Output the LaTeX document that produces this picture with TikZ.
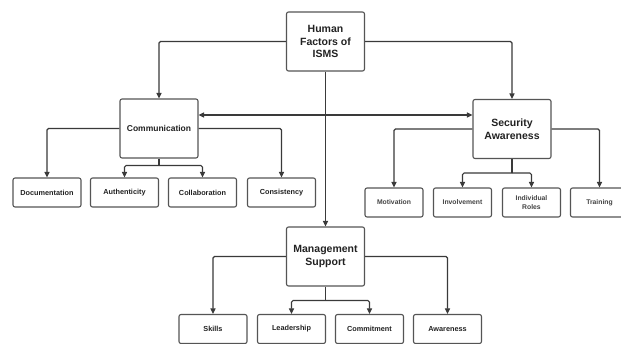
\documentclass[tikz,border=0pt]{standalone}
\usepackage{fontspec}
\setmainfont{Liberation Sans}
\usetikzlibrary{arrows.meta}
\definecolor{ln}{HTML}{3A3A3A}
\definecolor{bx}{HTML}{555555}
\definecolor{tx}{HTML}{222222}
\tikzset{
  bigbox/.style={draw=bx, line width=1.1pt, rounded corners=2pt, fill=white, minimum width=78pt, minimum height=59pt, align=center, text=tx, font=\bfseries\fontsize{10.5}{12.8}\selectfont, inner sep=1pt},
  midbox/.style={bigbox, font=\bfseries\fontsize{8.5}{10}\selectfont},
  subbox/.style={draw=bx, line width=1.1pt, rounded corners=2pt, fill=white, minimum width=68pt, minimum height=29pt, align=center, text=tx, font=\bfseries\fontsize{7.3}{8.6}\selectfont, inner sep=1pt},
  secbox/.style={subbox, minimum width=58pt, font=\bfseries\fontsize{6.8}{8.6}\selectfont, text=tx!85},
  conn/.style={draw=ln, line width=1.1pt, rounded corners=1.5pt},
  arr/.style={conn, -{Triangle[length=5.5pt,width=5pt]}},
  darr/.style={conn, {Triangle[length=5.5pt,width=5pt]}-{Triangle[length=5.5pt,width=5pt]}}
}
\begin{document}
\begin{tikzpicture}[x=1pt,y=-1pt]
\useasboundingbox (0,0) rectangle (621,344);
\clip (0,0) rectangle (621,344);
\fill[white] (0,0) rectangle (621,344);
% main nodes
\node[bigbox] (top) at (325.5,41.5) {Human\\Factors of\\ISMS};
\node[midbox] (comm) at (159,128.5) {Communication};
\node[bigbox] (sec) at (512,129) {Security\\Awareness};
\node[bigbox] (mgmt) at (325.5,256.5) {Management\\Support};
% communication subs
\node[subbox] (doc) at (47,192.5) {Documentation};
\node[subbox] (auth) at (124.5,192.5) {Authenticity};
\node[subbox] (coll) at (202.5,192.5) {Collaboration};
\node[subbox] (cons) at (281.5,192.5) {Consistency};
% security subs
\node[secbox] (mot) at (394,202.5) {Motivation};
\node[secbox] (inv) at (462.5,202.5) {Involvement};
\node[secbox] (ind) at (531.5,202.5) {Individual\\Roles};
\node[secbox] (train) at (599.5,202.5) {Training};
% management subs
\node[subbox] (skills) at (213,329) {Skills};
\node[subbox] (lead) at (291.5,329) {Leadership};
\node[subbox] (commit) at (369.5,329) {Commitment};
\node[subbox] (aware) at (447.5,329) {Awareness};
% connectors from top
\draw[arr] (top.west) -| (comm.north);
\draw[arr] (top.east) -| (sec.north);
\draw[arr] (top.south) -- (mgmt.north);
\draw[darr] ([yshift=13.5pt]comm.east) -- ([yshift=13.5pt]comm.east -| sec.west);
% communication
\draw[arr] (comm.west) -| (doc.north);
\draw[arr] (comm.east) -| (cons.north);
\coordinate (cj) at ([yshift=-7pt]comm.south);
\draw[conn] (comm.south) -- (cj);
\draw[arr] (cj) -| (auth.north);
\draw[arr] (cj) -| (coll.north);
% security
\draw[arr] (sec.west) -| (mot.north);
\draw[arr] (sec.east) -| (train.north);
\coordinate (sj) at ([yshift=-14pt]sec.south);
\draw[conn] (sec.south) -- (sj);
\draw[arr] (sj) -| (inv.north);
\draw[arr] (sj) -| (ind.north);
% management
\draw[arr] (mgmt.west) -| (skills.north);
\draw[arr] (mgmt.east) -| (aware.north);
\coordinate (mj) at ([yshift=-14pt]mgmt.south);
\draw[conn] (mgmt.south) -- (mj);
\draw[arr] (mj) -| (lead.north);
\draw[arr] (mj) -| (commit.north);
\end{tikzpicture}
\end{document}
